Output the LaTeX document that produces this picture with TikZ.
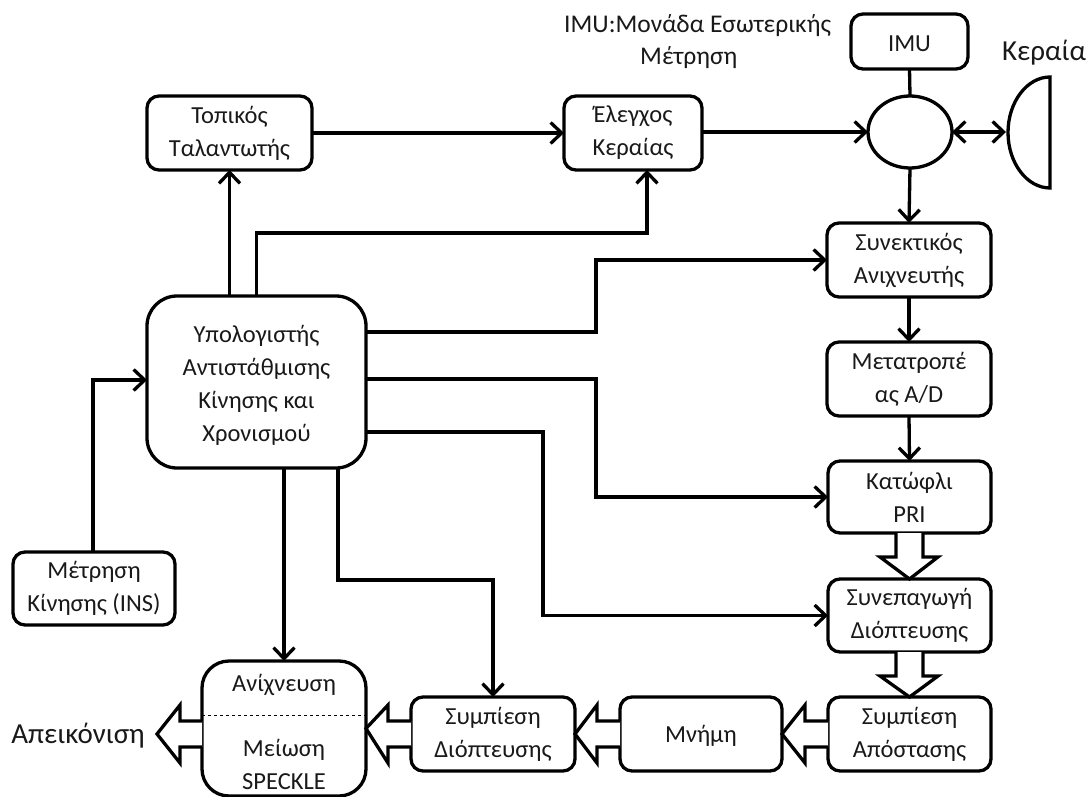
\documentclass[tikz,border=0pt]{standalone}
\usepackage{fontspec}
\setmainfont{Carlito}
\usetikzlibrary{arrows.meta,calc,shapes.geometric}
\tikzset{
  every node/.style={font=\fontsize{24.5}{33}\selectfont, text=black!90},
  blk/.style={draw=black, line width=3.3pt, rounded corners=12pt, align=center, outer sep=0pt, inner sep=0pt, minimum height=74pt, minimum width=164pt, fill=white, execute at begin node={\rule{0pt}{20pt}}},
  barb/.tip={Straight Barb[length=11pt,width=21pt,line width=3.3pt]},
  conn/.style={line width=3.3pt, -barb},
  plain/.style={line width=3.3pt},
  hollow/.style={line width=3.3pt, fill=white, miter limit=10},
  lab/.style={inner sep=0pt, align=center}
}
\begin{document}
\begin{tikzpicture}[x=1pt,y=-1pt]
\useasboundingbox (0,0) rectangle (1089,797);
\node[blk,minimum width=165pt] (tl) at (229.5,133) {Τοπικός\\Ταλαντωτής};
\node[blk,minimum width=138pt] (ctl) at (633,133) {Έλεγχος\\Κεραίας};
\node[blk,minimum width=117pt,minimum height=55pt] (imu) at (909.5,41.5) {IMU};
\node[ellipse,draw=black,line width=3.3pt,minimum width=84pt,minimum height=72pt,inner sep=0pt,outer sep=0pt] (circ) at (910,132) {};
\draw[plain] (1050,77) .. controls (1027,77) and (1008,102) .. (1008,132.5) .. controls (1008,163) and (1027,188) .. (1050,188) -- cycle;
\coordinate (ant) at (1006,132);
\node[lab,font=\fontsize{29}{33}\selectfont] (kerlab) at (1044,53) {Κεραία};
\node[lab,align=left,anchor=north west,font=\fontsize{25.5}{32}\selectfont] (imulab) at (564,14) {IMU:Μονάδα Εσωτερικής\\\hspace*{76pt}Μέτρηση};
\node[blk] (coh) at (909,260) {Συνεκτικός\\Ανιχνευτής};
\node[blk] (adc) at (909,379) {Μετατροπέ\\ας A/D};
\node[blk,minimum width=163pt,minimum height=72pt] (thr) at (909.5,497) {Κατώφλι\\PRI};
\node[blk,minimum width=163pt,minimum height=73pt] (fus) at (909.5,615.5) {Συνεπαγωγή\\Διόπτευσης};
\node[blk,minimum width=163pt] (rng) at (909.5,734) {Συμπίεση\\Απόστασης};
\node[blk,minimum width=162pt] (mem) at (701,734) {Μνήμη};
\node[blk] (azm) at (493,734) {Συμπίεση\\Διόπτευσης};
\node[blk,minimum height=135pt,rounded corners=27pt] (det) at (284,728.5) {};
\node[lab] (detA) at (284,685) {Ανίχνευση};
\node[lab] (detB) at (284,764) {Μείωση\\SPECKLE};
\draw[line width=0.8pt,dashed] (det.west |- 0,715.5) coordinate (d1) -- (det.east |- 0,715.5) coordinate (d2);
\node[blk,minimum width=162pt,minimum height=73pt] (ins) at (94,588.5) {Μέτρηση\\Κίνησης (INS)};
\node[blk,minimum width=219pt,minimum height=172pt,rounded corners=30pt] (comp) at (256.5,382) {\rule{0pt}{24pt}Υπολογιστής\\Αντιστάθμισης\\Κίνησης και\\Χρονισμού};
\node[lab,font=\fontsize{29}{33}\selectfont] (disp) at (78,736) {Απεικόνιση};

% connectors
\draw[conn] (tl.east) -- (ctl.west);
\draw[conn] (ctl.east |- circ.west) -- (circ.west);
\draw[plain] (imu.south) -- (circ.north);
\draw[line width=3.3pt,barb-barb] (circ.east) -- (ant);
\draw[conn] (circ.south) -- (coh.north);
\draw[conn] (coh.south) -- (adc.north);
\draw[conn] (adc.south) -- (thr.north);
\draw[conn] (comp.north -| tl.south) -- (tl.south);
\draw[conn] (comp.north) -- (256.5,233) -| (ctl.south -| 647,0);
\draw[conn] (comp.east |- 0,332) -- (596,332) |- (coh.west);
\draw[conn] (comp.east |- 0,379) -- (596,379) |- (thr.west);
\draw[conn] (comp.east |- 0,432) -- (543,432) |- (fus.west);
\draw[conn] (comp.south -| 338,0) -- (338,580) -| (azm.north);
\draw[conn] (comp.south -| det.north) -- (det.north);
\draw[conn] (ins.north -| 93,0) -- (93,380) -- (comp.west |- 0,380);

% hollow vertical arrows
\foreach \a/\b in {thr/fus,fus/rng}{
  \path[hollow,draw=black] ($(\a.south)+(-13.5,0)$) -- ($(\a.south)+(-13.5,24)$) -- ($(\a.south)+(-29.5,24)$) -- (\b.north) -- ($(\a.south)+(28.5,24)$) -- ($(\a.south)+(13.5,24)$) -- ($(\a.south)+(13.5,0)$);
}
% hollow horizontal arrows
\foreach \a/\b in {rng/mem,mem/azm,azm/det}{
  \path[hollow,draw=black] ($(\a.west)+(0,-13)$) -- ($(\a.west)+(-23,-13)$) -- ($(\a.west)+(-23,-29)$) -- (\b.east) -- ($(\a.west)+(-23,29)$) -- ($(\a.west)+(-23,13)$) -- ($(\a.west)+(0,13)$);
}
\path[hollow,draw=black] (det.west |- 0,721) -- (180,721) -- (180,705) -- (157,734) -- (180,763) -- (180,747) -- (det.west |- 0,747);
\end{tikzpicture}
\end{document}
